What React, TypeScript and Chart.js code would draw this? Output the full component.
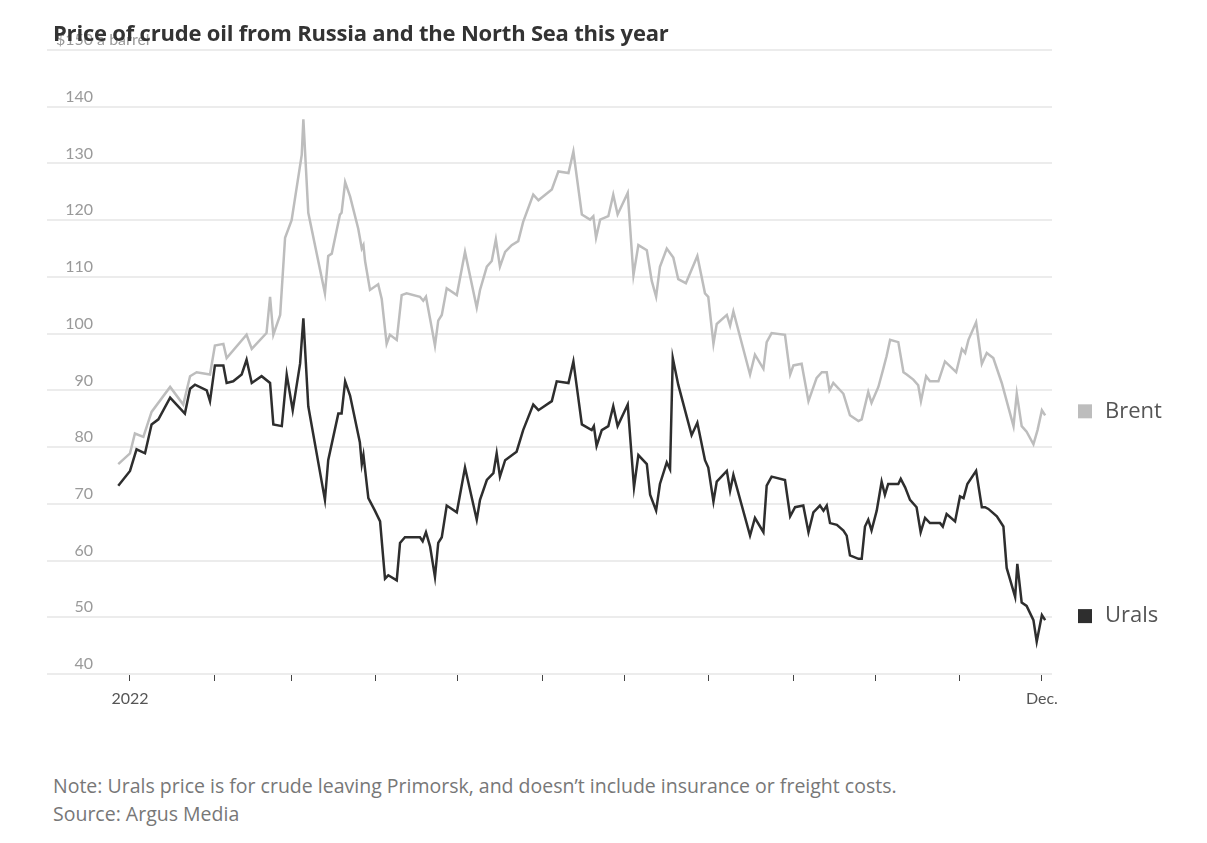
import React, { useEffect, useRef } from "react";
import { Chart, registerables } from "chart.js";

Chart.register(...registerables);

// Days since 1 Jan 2022
const brentDays = [
  -4.3, 0, 1.8, 4.9, 7.9, 14.7, 19.5, 22, 24.4, 29.3, 31.1, 34.2, 35.4, 42.7, 44.6, 50, 51.3, 52.5, 55, 56.8,
  59.2, 62.9, 63.5, 65.3, 71.4, 72.6, 73.9, 76.9, 77.5, 78.8, 80.6, 83.6, 84.9, 85.5, 86.1, 87.9, 90.9, 92.2,
  94, 95.2, 97.7, 99.5, 101.3, 106.2, 107.4, 108.4, 110.5, 111.7, 112.9, 114.2, 116, 119.7, 122.7, 127, 128.2,
  130.7, 132.5, 134, 135.5, 137.4, 139.8, 142.2, 144, 147.7, 149.6, 154.5, 156.9, 160.6, 162.4, 165.5, 168.5,
  169.7, 170.7, 172.2, 175.2, 177, 178.6, 182.3, 184.4, 186.2, 189.3, 191.1, 192.7, 194.1, 196.6, 199, 200.8,
  203.6, 207.8, 210.6, 211.8, 213.7, 214.9, 218.6, 219.8, 221, 227.1, 228.9, 232, 233.2, 235, 239.9, 241.8,
  243, 246, 248.5, 251.5, 253.4, 255.2, 256.2, 257.6, 261.3, 263.7, 266.8, 268, 270.4, 271.6, 274.1, 275.9,
  277.1, 278.4, 281.4, 283.3, 284.5, 286.9, 288.7, 289.7, 291.6, 293, 296.1, 298.5, 302.6, 304.7, 305.9,
  307.1, 309.9, 312, 313.8, 316.2, 319.3, 323.6, 324.8, 326.6, 328.4, 330.9, 332.4, 334, 335.2,
];
const brentValues = [
  77.0, 78.9, 82.4, 81.8, 86.2, 90.6, 87.5, 92.5, 93.2, 92.8, 97.9, 98.2, 95.7, 99.8, 97.3, 100.1, 106.5, 99.8,
  103.3, 116.9, 120, 131.5, 137.8, 121.3, 107.1, 113.7, 114.1, 121, 121.3, 126.7, 124.2, 118.5, 115, 115.6,
  112.8, 107.7, 108.7, 106.1, 98.2, 99.8, 98.9, 106.8, 107.1, 106.5, 105.8, 106.5, 101.1, 97.9, 102.3, 103.3,
  108, 106.8, 114.4, 104.6, 107.7, 111.8, 112.8, 116.6, 111.8, 114.4, 115.6, 116.3, 119.7, 124.5, 123.5,
  125.4, 128.6, 128.3, 132.1, 121, 120.1, 120.7, 116.9, 120.1, 120.7, 124.5, 121, 124.8, 110.3, 115.6, 114.7,
  109.3, 106.5, 111.8, 115, 113.4, 109.6, 108.9, 113.7, 107.1, 106.5, 98.2, 101.7, 103.3, 101.4, 103.9, 92.8,
  96.3, 93.8, 98.5, 100.1, 99.8, 92.8, 94.4, 94.7, 88.1, 92.2, 93.2, 93.2, 90, 91.3, 89.4, 85.6, 84.6, 84.9,
  89.7, 87.8, 90.6, 93.8, 96, 98.9, 98.5, 93.2, 92.8, 91.9, 90.9, 88.1, 92.5, 91.6, 91.6, 95.1, 93.2, 97.3,
  96.6, 98.9, 102, 94.7, 96.6, 95.7, 91.3, 83.7, 89.4, 83.7, 82.7, 80.5, 83, 86.5, 85.6,
];

const uralsDays = [
  -4.3, 0, 2.4, 5.5, 7.9, 10.4, 14.7, 20.1, 22, 23.8, 28.1, 29.3, 31.1, 34.2, 35.4, 37.8, 40.9, 42.7, 44.6,
  48.2, 51.3, 52.5, 55.6, 57.4, 59.6, 62.3, 63.5, 65.3, 71.4, 72.6, 76.3, 77.5, 78.8, 80.6, 84.2, 84.9, 85.5,
  87.3, 89.7, 91.6, 93.4, 94.6, 97.7, 98.9, 100.7, 106.2, 107.2, 108.4, 109.9, 111.7, 112.9, 114.2, 116,
  119.7, 122.7, 127, 128.2, 130.7, 133.1, 134.3, 135.5, 137.4, 141.6, 144, 147.7, 149.6, 154.5, 156.3, 160.6,
  162.4, 165.5, 169.1, 169.9, 170.9, 172.8, 175.2, 177, 178.6, 182.3, 184.6, 186.2, 189.3, 190.5, 192.7,
  194.1, 196.6, 197.8, 198.8, 200.8, 205.7, 207.8, 210.6, 211.8, 213.7, 214.9, 218.6, 219.8, 221, 227.1,
  228.9, 232, 233.2, 235, 239.9, 241.8, 243.6, 246.6, 248.5, 250.3, 252.7, 254, 255.2, 256.4, 258.9, 261.3,
  262.5, 263.7, 266.8, 268, 269.2, 270.4, 271.6, 273.5, 275.3, 276.5, 277.7, 281.4, 282.3, 283.9, 285.7,
  288.1, 289.6, 291.2, 293, 296.7, 297.7, 299.1, 302.2, 304, 305.3, 306.7, 309.9, 312, 313.2, 314.4, 317.5,
  319.9, 321.1, 324.2, 325, 326.6, 328.4, 330.9, 332.1, 334, 335.2,
];
const uralsValues = [
  73.2, 75.8, 79.6, 78.9, 84, 84.9, 88.7, 85.9, 90.3, 91, 90, 88.1, 94.4, 94.4, 91.3, 91.6, 92.8, 95.4, 91.3,
  92.5, 91.3, 84, 83.7, 92.8, 86.5, 94.7, 102.7, 87.2, 70.7, 77.7, 85.9, 85.9, 91.6, 89.1, 80.8, 77, 78.6, 71,
  68.8, 66.9, 56.8, 57.4, 56.5, 63.1, 64.1, 64.1, 63.4, 65, 62.5, 57.1, 63.1, 64.1, 69.7, 68.5, 76.4, 67.2,
  70.7, 74.2, 75.4, 78.9, 74.8, 77.7, 79.2, 83, 87.5, 86.5, 88.1, 91.6, 91.3, 95.1, 84, 83, 83.7, 80.2, 83,
  83.7, 87.2, 83.7, 87.5, 72.9, 78.6, 77, 71.6, 68.8, 73.5, 77.3, 76.1, 95.7, 91, 82.1, 84.3, 77.7, 76.4,
  70.4, 73.9, 75.8, 72.3, 75.1, 64.4, 67.5, 65, 73.2, 74.8, 74.2, 67.8, 69.4, 69.7, 65, 68.5, 69.7, 68.8,
  69.7, 66.6, 66.3, 65.3, 64.4, 60.9, 60.3, 60.3, 66, 67.2, 65.3, 68.8, 73.9, 71.6, 73.5, 73.5, 74.4, 72.9,
  70.7, 69.4, 65, 67.5, 66.6, 66.6, 66, 68.2, 66.9, 71.3, 71, 73.5, 75.8, 69.4, 69.4, 69.1, 67.8, 66, 58.7,
  53.6, 59.4, 52.6, 52, 49.5, 45.7, 50.4, 49.5,
];

const seriesNames = ["Brent", "Urals"];
const monthTicks = [0, 31, 59, 90, 120, 151, 181, 212, 243, 273, 304, 334];
const xTickLabels = ["2022", "", "", "", "", "", "", "", "", "", "", "Dec."];
const yTicks = [40, 50, 60, 70, 80, 90, 100, 110, 120, 130, 140, 150];
const yUnitPrefix = "$";
const yUnitSuffix = " a barrel";

const FONT = "Lato, 'Noto Sans', 'DejaVu Sans', sans-serif";
const WIDE_FONT = "'Open Sans', 'Noto Sans', 'DejaVu Sans', sans-serif";

const yLabelPlugin = {
  id: "yLabels",
  afterDraw(chart: any) {
    const ctx = chart.ctx;
    const y = chart.scales.y;
    const area = chart.chartArea;
    const rightX = area.left + 46;
    ctx.save();
    ctx.font = `16px ${FONT}`;
    ctx.fillStyle = "#9a9a9a";
    ctx.textBaseline = "middle";
    const ticks = y.ticks;
    ticks.forEach((t: any, i: number) => {
      const py = y.getPixelForValue(t.value) - 10;
      const label = String(t.value);
      ctx.textAlign = "right";
      ctx.fillText(label, rightX, py);
      if (i === ticks.length - 1) {
        const w = ctx.measureText(label).width;
        ctx.fillText(yUnitPrefix, rightX - w, py);
        ctx.textAlign = "left";
        ctx.fillText(yUnitSuffix, rightX, py);
      }
    });
    ctx.restore();
  },
};

const endLabelPlugin = {
  id: "endLabels",
  afterDraw(chart: any) {
    const ctx = chart.ctx;
    const y = chart.scales.y;
    const area = chart.chartArea;
    ctx.save();
    chart.data.datasets.forEach((ds: any) => {
      const last = ds.data[ds.data.length - 1];
      const py = y.getPixelForValue(last.y) - 4;
      const sx = area.right + 26;
      ctx.fillStyle = ds.borderColor;
      ctx.fillRect(sx, py - 7, 14, 14);
      ctx.fillStyle = "#555";
      ctx.font = `22px ${WIDE_FONT}`;
      ctx.textAlign = "left";
      ctx.textBaseline = "middle";
      ctx.fillText(ds.label, sx + 27, py);
    });
    ctx.restore();
  },
};

export default function App() {
  const ref = useRef<HTMLCanvasElement | null>(null);

  useEffect(() => {
    if (!ref.current) return;
    const chart = new Chart(ref.current, {
      type: "line",
      data: {
        datasets: [
          {
            label: seriesNames[0],
            data: brentDays.map((d, i) => ({ x: d, y: brentValues[i] })),
            borderColor: "#bdbdbd",
            borderWidth: 2.5,
            pointRadius: 0,
            tension: 0,
          },
          {
            label: seriesNames[1],
            data: uralsDays.map((d, i) => ({ x: d, y: uralsValues[i] })),
            borderColor: "#2e2e2e",
            borderWidth: 2.5,
            pointRadius: 0,
            tension: 0,
          },
        ],
      },
      options: {
        animation: false,
        responsive: false,
        maintainAspectRatio: false,
        layout: { padding: { left: 39, right: 147, top: 42, bottom: 14 } },
        plugins: {
          legend: { display: false },
          tooltip: { enabled: false },
          title: { display: false },
        },
        scales: {
          x: {
            type: "linear",
            min: -30.4,
            max: 337.7,
            afterBuildTicks(scale: any) {
              scale.ticks = monthTicks.map((v) => ({ value: v }));
            },
            afterFit(scale: any) {
              scale.height = 40;
            },
            grid: {
              display: true,
              drawOnChartArea: false,
              drawTicks: true,
              tickLength: 7,
              tickColor: "#444",
              lineWidth: 1,
            },
            border: { display: false },
            ticks: {
              autoSkip: false,
              maxRotation: 0,
              padding: 8,
              color: "#555",
              font: { family: FONT, size: 16 },
              callback: (v: any) => {
                const i = monthTicks.indexOf(Number(v));
                return i >= 0 ? xTickLabels[i] : "";
              },
            },
          },
          y: {
            min: 40,
            max: 150,
            afterBuildTicks(scale: any) {
              scale.ticks = yTicks.map((v) => ({ value: v }));
            },
            afterFit(scale: any) {
              scale.width = 0;
            },
            grid: { color: "#ececec", lineWidth: 2, drawTicks: false },
            border: { display: false },
            ticks: { display: false },
          },
        },
      },
      plugins: [yLabelPlugin, endLabelPlugin],
    });
    return () => chart.destroy();
  }, []);

  return (
    <div style={{ position: "relative", width: 1191, height: 827, fontFamily: WIDE_FONT }}>
      <canvas ref={ref} width={1191} height={720} style={{ display: "block", width: 1191, height: 720 }} />
      <div
        style={{
          position: "absolute",
          left: 45,
          top: 11,
          fontSize: 22,
          lineHeight: "27px",
          fontWeight: 700,
          letterSpacing: "-0.2px",
          color: "#333",
          whiteSpace: "nowrap",
        }}
      >
        Price of crude oil from Russia and the North Sea this year
      </div>
      <div
        style={{
          position: "absolute",
          left: 45,
          top: 764,
          fontSize: 19.5,
          lineHeight: "28px",
          color: "#777",
          whiteSpace: "nowrap",
        }}
      >
        <div>Note: Urals price is for crude leaving Primorsk, and doesn’t include insurance or freight costs.</div>
        <div>Source: Argus Media</div>
      </div>
    </div>
  );
}
